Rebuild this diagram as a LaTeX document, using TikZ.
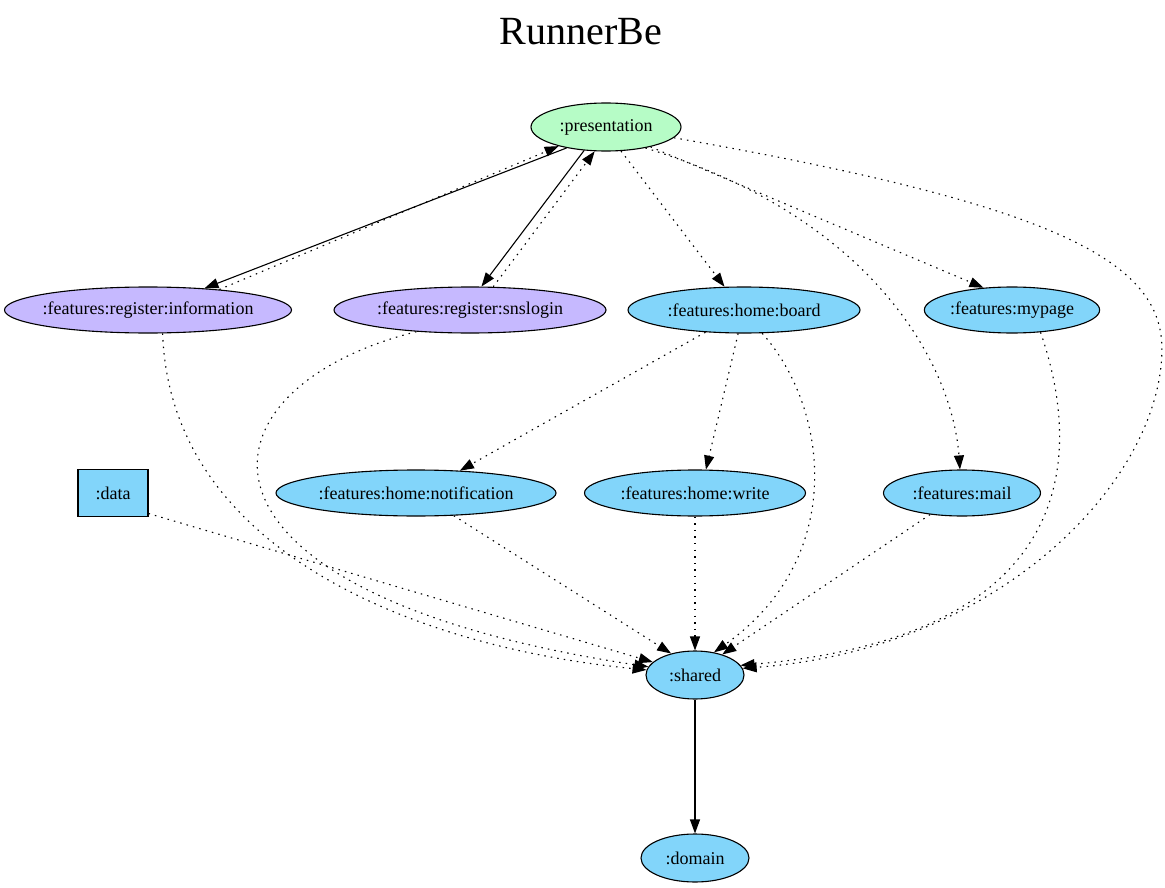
\documentclass[tikz,border=0pt]{standalone}
\usepackage{fontspec}
\setmainfont{Liberation Serif}
\usepackage{tikz}
\usetikzlibrary{positioning,shapes.geometric,arrows.meta}
\definecolor{presgreen}{HTML}{B6FCC6}
\definecolor{regpurple}{HTML}{C6B9FF}
\definecolor{featblue}{HTML}{82D5FA}
\tikzstyle{line} = [draw,line width=1.1pt,-{Triangle[length=14pt,width=10pt]}]
\tikzstyle{dep} = [line,dash pattern=on 1.5pt off 5.1pt]

\begin{document}
\begin{tikzpicture}[auto,on grid,
                module/.style = {ellipse, draw, line width=1.1pt, inner sep=0pt,
                  minimum height=46pt, fill=featblue,
                  font=\fontsize{18}{20}\selectfont},
                lib/.style = {rectangle, draw, line width=1.1pt, inner sep=0pt,
                  minimum width=70pt, minimum height=47pt, fill=featblue,
                  font=\fontsize{18}{20}\selectfont}]
                \useasboundingbox (0,0) rectangle (1165pt,-888pt);
                \node[module, fill=presgreen, minimum width=150pt, minimum height=48pt] (node1) at (606pt,-127pt) {:presentation};
                \node[font=\fontsize{40}{44}\selectfont] (title1) [above left = 95pt and 25pt of node1] {RunnerBe};
                \node[module, fill=regpurple, inner xsep=-4pt, minimum width=287pt] (reg1) [below left = 183pt and 458pt of node1] {:features:register:information};
                \node[module, fill=regpurple, minimum width=272pt] (reg2) [below left = 183pt and 136pt of node1] {:features:register:snslogin};
                \node[module, minimum width=232pt] (feat1) [below right = 183pt and 138pt of node1] {:features:home:board};
                \node[module, minimum width=158pt] (feat4) [below right = 183pt and 406pt of node1] {:features:mypage};
                \node[module, minimum width=280pt] (feat2) [below left = 183pt and 328pt of feat1] {:features:home:notification};
                \node[module, minimum width=221pt] (feat3) [below left = 183pt and 49pt of feat1] {:features:home:write};
                \node[module, minimum width=157pt] (feat5) [below left = 183pt and 50pt of feat4] {:features:mail};
                \node[lib] (data1) [below left = 183pt and 35pt of reg1] {:data};
                \node[module, minimum width=98pt, minimum height=48pt] (shared1) [below = 182pt of feat3] {:shared};
                \node[module, minimum width=108pt, minimum height=48pt] (domain1) [below = 183pt of shared1] {:domain};
                \path[line] (node1.-152) -- (reg1.21);
                \path[dep] (reg1.16) -- (node1.-158);
                \path[line] (node1.-133) -- (reg2.64);
                \path[dep] (reg2.45) -- (node1.-115);
                \path[dep] (node1.-58) -- (feat1.130);
                \path[dep] (node1.-24) -- (feat4.142);
                \path[dep] (node1.-28) .. controls +(235pt,-72pt) and +(-7pt,98pt) .. (feat5.95);
                \path[dep] (node1.-9) .. controls +(375pt,-66pt) and +(0pt,90pt) .. ++(488pt,-211pt)
                  .. controls +(0pt,-130pt) and +(259pt,19pt) .. (shared1.8);
                \path[dep] (reg1.-58) .. controls +(8pt,-225pt) and +(-216pt,21pt) .. (shared1.174);
                \path[dep] (reg2.-158) .. controls +(-228pt,-57pt) and +(-488pt,74pt) .. (shared1.170);
                \path[dep] (feat1.-150) -- (feat2.27);
                \path[dep] (feat1.-104) -- (feat3.65);
                \path[dep] (feat1.-52) .. controls +(67pt,-75pt) and +(133pt,94pt) .. (shared1.50);
                \path[dep] (data1.-30) -- (shared1.163);
                \path[dep] (feat2.-31) -- (shared1.138);
                \path[dep] (feat3) -- (shared1);
                \path[dep] (feat5.-146) -- (shared1.37);
                \path[dep] (feat4.-38) .. controls +(50pt,-145pt) and +(317pt,27pt) .. (shared1.12);
                \path[line] (shared1) -- (domain1);
            \end{tikzpicture}
\end{document}
